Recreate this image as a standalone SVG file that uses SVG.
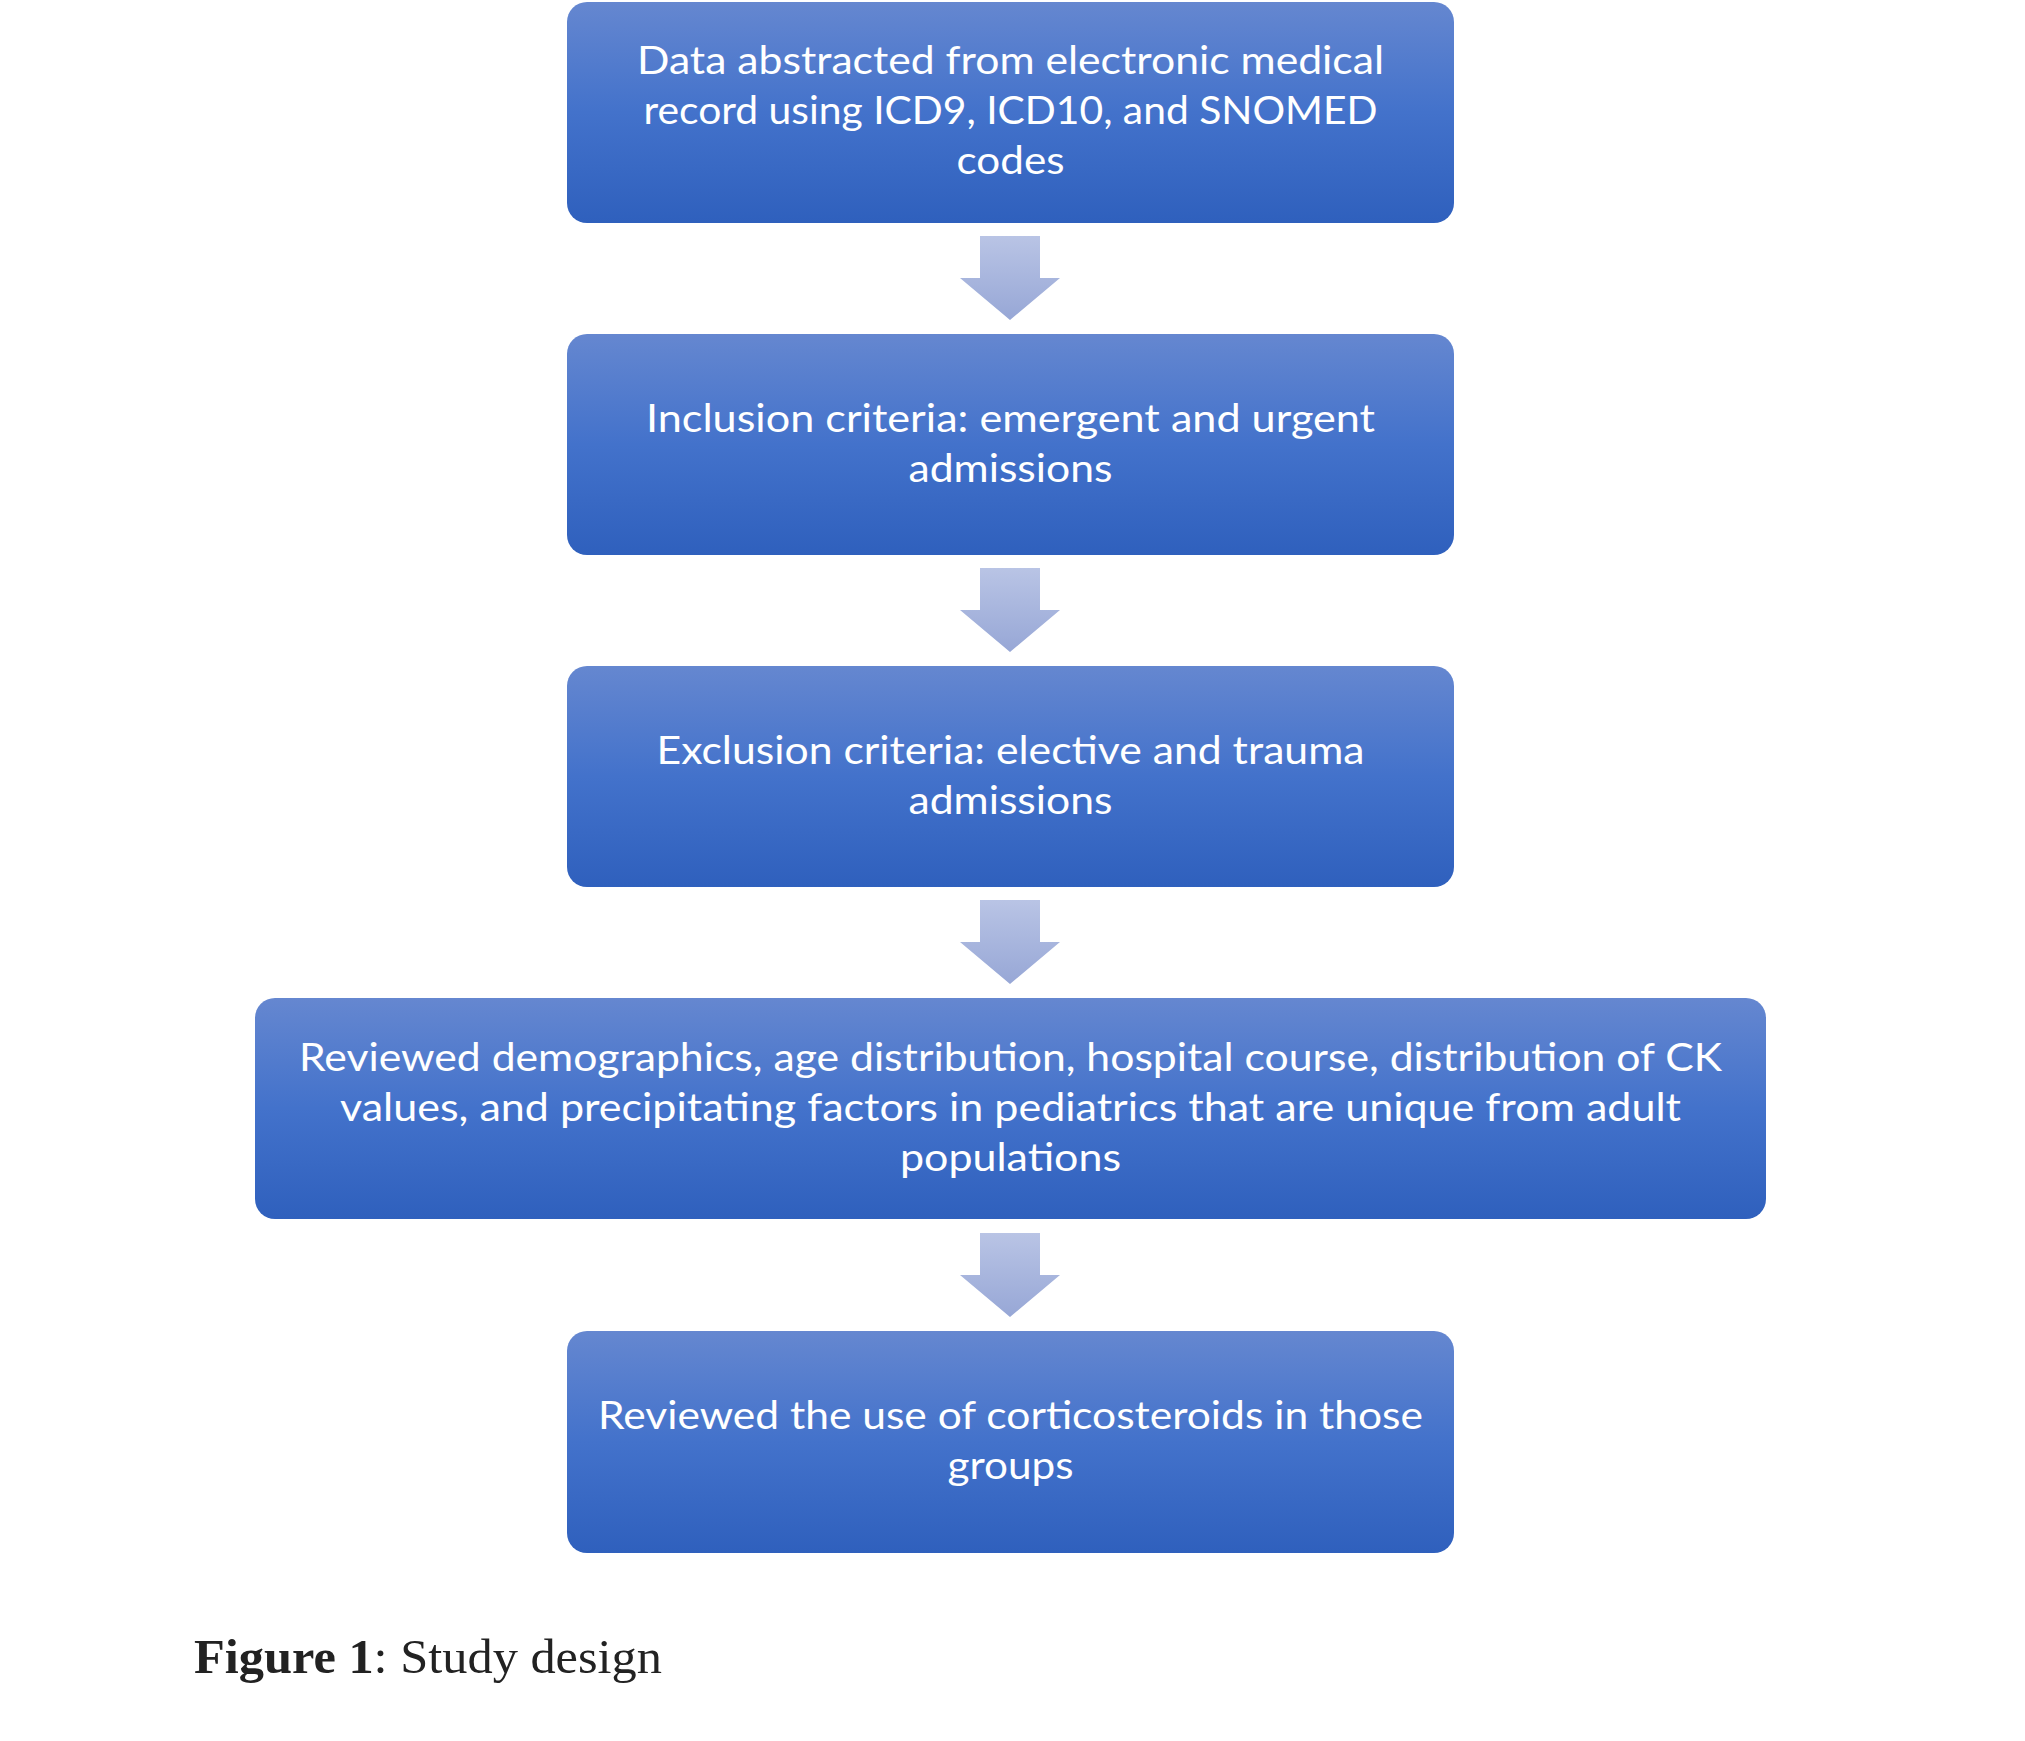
<svg xmlns="http://www.w3.org/2000/svg" width="2025" height="1741" viewBox="0 0 2025 1741">
<defs>
<linearGradient id="boxg" x1="0" y1="0" x2="0" y2="1">
<stop offset="0" stop-color="#6587D0"/>
<stop offset="0.5" stop-color="#4372CB"/>
<stop offset="1" stop-color="#2F60BD"/>
</linearGradient>
<linearGradient id="arrg" x1="0" y1="0" x2="0" y2="1">
<stop offset="0" stop-color="#B9C4E5"/>
<stop offset="1" stop-color="#97A7D6"/>
</linearGradient>
<style>
.box{fill:url(#boxg);}
.arr{fill:url(#arrg);}
.t{font-family:Lato,"Liberation Sans",sans-serif;font-size:39px;fill:#FFFFFF;text-anchor:middle;}
.cap{font-family:"Liberation Serif","Times New Roman",serif;font-size:49px;fill:#222222;}
</style>
</defs>
<rect width="2025" height="1741" fill="#FFFFFF"/>
<g id="connectors">
<polygon class="arr" points="980,236 1040,236 1040,278 1060,278 1010,320 960,278 980,278"/>
<polygon class="arr" points="980,568 1040,568 1040,610 1060,610 1010,652 960,610 980,610"/>
<polygon class="arr" points="980,900 1040,900 1040,942 1060,942 1010,984 960,942 980,942"/>
<polygon class="arr" points="980,1233 1040,1233 1040,1275 1060,1275 1010,1317 960,1275 980,1275"/>
</g>
<g id="node1">
<rect class="box" x="567" y="2" width="887" height="221" rx="20"/>
<text class="t" x="1010.5" y="74" textLength="747" lengthAdjust="spacingAndGlyphs">Data abstracted from electronic medical</text>
<text class="t" x="1010.5" y="124" textLength="734" lengthAdjust="spacingAndGlyphs">record using ICD9, ICD10, and SNOMED</text>
<text class="t" x="1010.5" y="174" textLength="108" lengthAdjust="spacingAndGlyphs">codes</text>
</g>
<g id="node2">
<rect class="box" x="567" y="334" width="887" height="221" rx="20"/>
<text class="t" x="1010.5" y="432" textLength="729" lengthAdjust="spacingAndGlyphs">Inclusion criteria: emergent and urgent</text>
<text class="t" x="1010.5" y="482" textLength="204" lengthAdjust="spacingAndGlyphs">admissions</text>
</g>
<g id="node3">
<rect class="box" x="567" y="666" width="887" height="221" rx="20"/>
<text class="t" x="1010.5" y="764" textLength="708" lengthAdjust="spacingAndGlyphs">Exclusion criteria: elective and trauma</text>
<text class="t" x="1010.5" y="814" textLength="204" lengthAdjust="spacingAndGlyphs">admissions</text>
</g>
<g id="node4">
<rect class="box" x="255" y="998" width="1511" height="221" rx="20"/>
<text class="t" x="1010.5" y="1071" textLength="1423" lengthAdjust="spacingAndGlyphs">Reviewed demographics, age distribution, hospital course, distribution of CK</text>
<text class="t" x="1010.5" y="1121" textLength="1341" lengthAdjust="spacingAndGlyphs">values, and precipitating factors in pediatrics that are unique from adult</text>
<text class="t" x="1010.5" y="1171" textLength="221" lengthAdjust="spacingAndGlyphs">populations</text>
</g>
<g id="node5">
<rect class="box" x="567" y="1331" width="887" height="222" rx="20"/>
<text class="t" x="1010.5" y="1429" textLength="825" lengthAdjust="spacingAndGlyphs">Reviewed the use of corticosteroids in those</text>
<text class="t" x="1010.5" y="1479" textLength="126" lengthAdjust="spacingAndGlyphs">groups</text>
</g>
<g id="caption">
<text class="cap" x="194" y="1673" textLength="468" lengthAdjust="spacingAndGlyphs"><tspan font-weight="bold">Figure 1</tspan>: Study design</text>
</g>
</svg>
